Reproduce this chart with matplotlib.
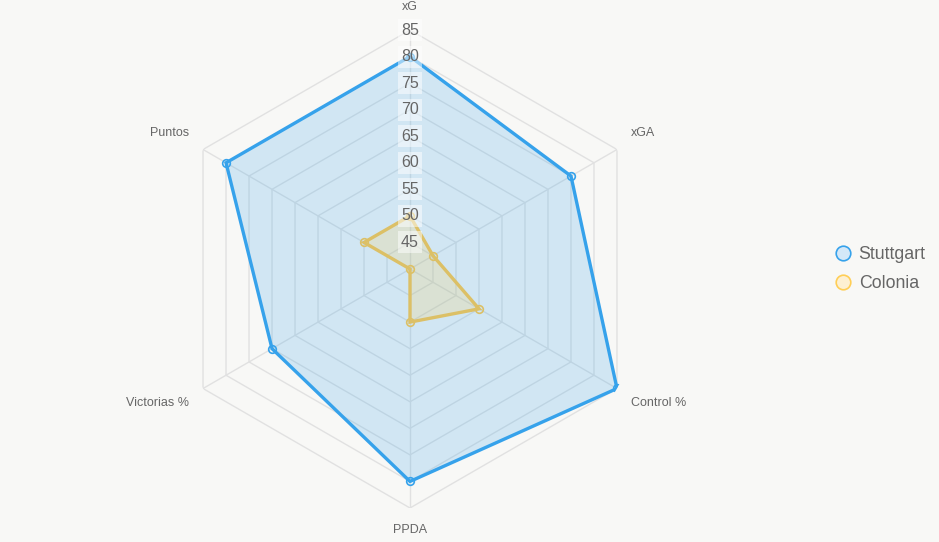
import numpy as np
import matplotlib
matplotlib.use("Agg")
import matplotlib.pyplot as plt
from matplotlib.lines import Line2D

plt.rcParams['font.family'] = ['Liberation Sans', 'DejaVu Sans']

categories = ["xG", "xGA", "Control %", "PPDA", "Victorias %", "Puntos"]
stuttgart = [80, 75, 85, 80, 70, 80]
colonia = [50, 45, 55, 50, 40, 50]
ticks = [45, 50, 55, 60, 65, 70, 75, 80, 85]
r_min, r_max = 40, 85

bg = "#F8F8F6"
fig = plt.figure(figsize=(9.39, 5.42), dpi=100, facecolor=bg)
cx, cy, R = 410 / 939, (542 - 269) / 542, 239
w, h = R / 939, R / 542
ax = fig.add_axes([cx - w, cy - h, 2 * w, 2 * h], projection="polar")
ax.set_facecolor("none")
ax.set_theta_zero_location("N")
ax.set_theta_direction(-1)
ax.set_ylim(r_min, r_max)
ax.grid(False)
ax.spines["polar"].set_visible(False)
ax.set_xticks([])
ax.set_yticks([])

n = len(categories)
angles = np.arange(n) * 2 * np.pi / n
ang_c = np.append(angles, angles[0])

grid_col = "#E1E1E1"
for t in ticks:
    ax.plot(ang_c, [t] * (n + 1), color=grid_col, lw=1, zorder=1)
for a in angles:
    ax.plot([a, a], [r_min, r_max], color=grid_col, lw=1, zorder=1)

blue = "#36A2EB"
yellow = "#DCC066"

def draw(vals, col, fill, alpha, z):
    v = np.append(vals, vals[0])
    ax.fill(ang_c, v, color=fill, alpha=alpha, zorder=z, lw=0)
    ax.plot(ang_c, v, color=col, lw=2.4, zorder=z + 1, solid_joinstyle="miter")
    ax.plot(angles, vals, "o", ms=5.5, mfc="none", mec=col, mew=1.2, zorder=z + 2)

draw(stuttgart, blue, blue, 0.2, 2)
draw(colonia, yellow, "#FFCE56", 0.2, 5)

for t in ticks:
    ax.text(0, t, str(t), ha="center", va="center", fontsize=11.5, color="#666666",
            zorder=10,
            bbox=dict(boxstyle="square,pad=0.22", fc="white", ec="none", alpha=0.5))

offs = [(0, 23, "center"), (14, 16.5, "left"), (14, -14.5, "left"),
        (0, -22, "center"), (-14, -14.5, "right"), (-14, 16.5, "right")]
for a, lab, (dx, dy, ha) in zip(angles, categories, offs):
    ax.annotate(lab, xy=(a, r_max), xytext=(dx, dy), textcoords="offset pixels",
                ha=ha, va="center", fontsize=9, color="#666666", annotation_clip=False)

handles = [
    Line2D([], [], marker="o", ls="none", ms=10.5, mfc="#D4E8F8", mec=blue, mew=1.2),
    Line2D([], [], marker="o", ls="none", ms=10.5, mfc="#FDF0D2", mec="#FFCE56", mew=1.2),
]
fig.legend(handles, ["Stuttgart", "Colonia"], loc="center left",
           bbox_to_anchor=(816 / 939, (542 - 269) / 542), frameon=False,
           fontsize=12.8, labelcolor="#666666", handletextpad=0.3, labelspacing=0.7,
           handlelength=1.2)

fig.savefig("out.png", dpi=100, facecolor=bg)
